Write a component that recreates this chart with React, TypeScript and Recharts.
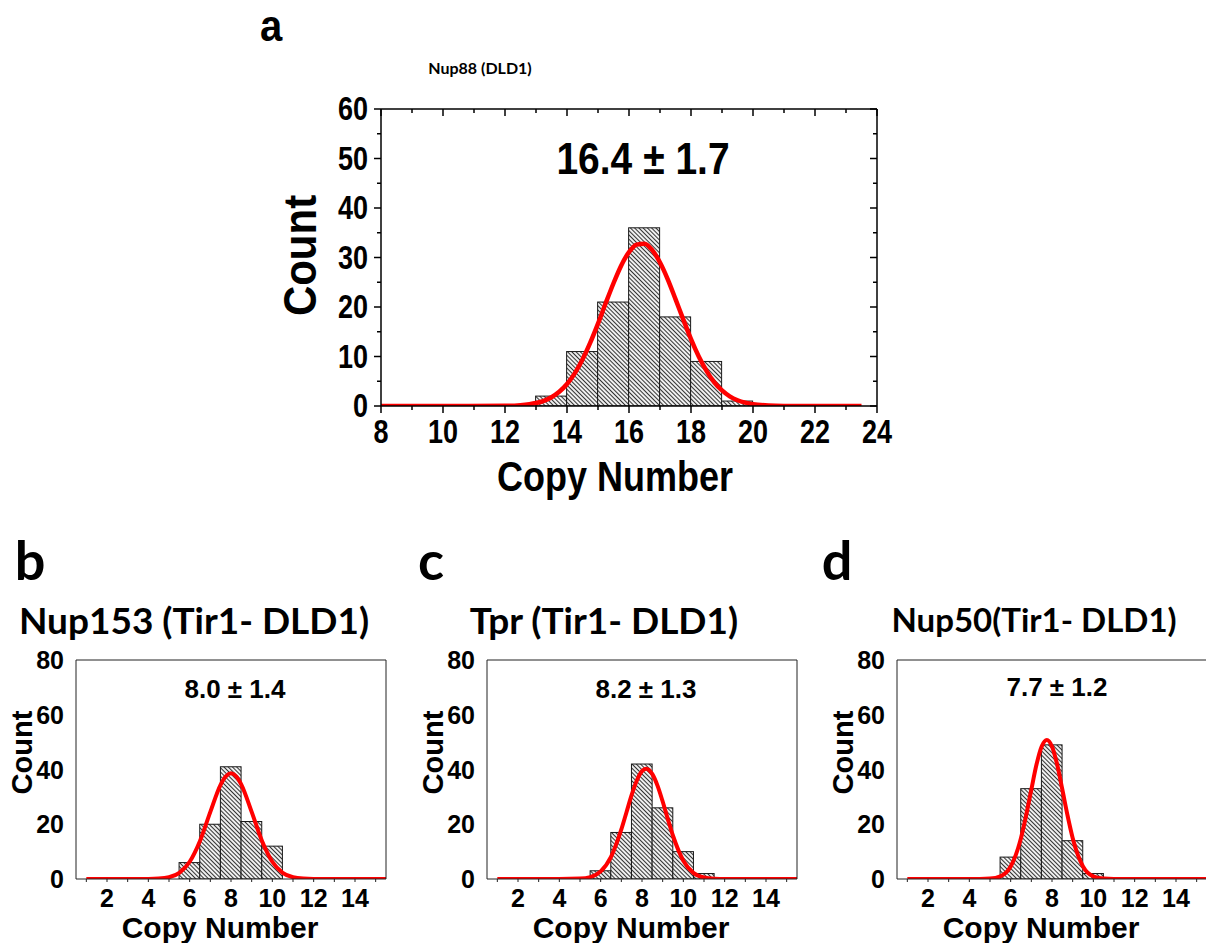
import React from 'react'
import { ComposedChart, Bar, Line, XAxis, YAxis, Label } from 'recharts'

const FONT = '"Liberation Sans", Arial, Helvetica, sans-serif'
const TITLE_FONT = 'Lato, "Open Sans", sans-serif'

// a: Nup88 (DLD1) – histogram (bin centres, counts) and fitted curve
const aBinCenters = [13.5, 14.5, 15.5, 16.5, 17.5, 18.5, 19.5]
const aCounts = [2, 11, 21, 36, 18, 9, 1]
const aFitX = [8, 10, 12, 12.5, 13, 13.25, 13.5, 13.75, 14, 14.25, 14.5, 14.75, 15, 15.25, 15.5, 15.75, 16, 16.25, 16.5, 16.75, 17, 17.25, 17.5, 17.75, 18, 18.25, 18.5, 18.75, 19, 19.25, 19.5, 19.75, 20, 20.5, 21, 22, 23.5]
const aFitY = [0, 0, 0.04, 0.17, 0.6, 1.05, 1.78, 2.87, 4.45, 6.6, 9.4, 12.8, 16.65, 20.8, 24.8, 28.4, 31.1, 32.6, 32.8, 31.5, 29.0, 25.6, 21.6, 17.5, 13.5, 10.0, 7.1, 4.8, 3.15, 1.96, 1.17, 0.67, 0.37, 0.1, 0.02, 0, 0]
const aXTicks = [8, 9, 10, 11, 12, 13, 14, 15, 16, 17, 18, 19, 20, 21, 22, 23, 24]
const aYTicks = [0, 5, 10, 15, 20, 25, 30, 35, 40, 45, 50, 55, 60]

// b: Nup153 (Tir1- DLD1)
const bBinCenters = [6, 7, 8, 9, 10]
const bCounts = [6, 20, 41, 21, 12]
const bFitX = [1, 2, 3, 4, 4.5, 5, 5.5, 6, 6.5, 7, 7.5, 7.75, 8, 8.25, 8.5, 9, 9.5, 10, 10.5, 11, 11.5, 12, 13, 14, 15.5]
const bFitY = [0, 0, 0, 0.03, 0.15, 0.65, 2.27, 6.3, 13.9, 24.5, 34.5, 37.5, 38.6, 37.5, 34.5, 24.5, 13.9, 6.3, 2.27, 0.65, 0.15, 0.03, 0, 0, 0]

// c: Tpr (Tir1- DLD1)
const cBinCenters = [6, 7, 8, 9, 10, 11]
const cCounts = [3, 17, 42, 26, 10, 2]
const cFitX = [1, 2, 3, 4, 5, 5.5, 6, 6.5, 7, 7.25, 7.5, 7.75, 8, 8.2, 8.5, 8.75, 9, 9.25, 9.5, 10, 10.5, 11, 11.5, 12, 13, 14, 15.5]
const cFitY = [0, 0, 0, 0, 0.14, 0.71, 2.76, 8.1, 18.1, 24.4, 30.7, 36.0, 39.4, 40.3, 38.3, 34.1, 28.3, 21.9, 15.8, 6.7, 2.15, 0.52, 0.1, 0, 0, 0, 0]

// d: Nup50(Tir1- DLD1)
const dBinCenters = [6, 7, 8, 9, 10]
const dCounts = [8, 33, 49, 14, 2]
const dFitX = [1, 2, 3, 4, 4.5, 5, 5.5, 6, 6.25, 6.5, 6.75, 7, 7.25, 7.5, 7.75, 8, 8.25, 8.5, 8.75, 9, 9.25, 9.5, 10, 10.5, 11, 12, 13, 14, 15.5]
const dFitY = [0, 0, 0, 0, 0.01, 0.14, 0.97, 4.6, 8.8, 15.0, 23.3, 32.7, 41.8, 48.4, 50.8, 48.4, 41.8, 32.7, 23.3, 15.0, 8.8, 4.6, 0.97, 0.14, 0.01, 0, 0, 0, 0]

const smallXTicks = [1, 2, 3, 4, 5, 6, 7, 8, 9, 10, 11, 12, 13, 14, 15]
const smallYTicks = [0, 20, 40, 60, 80]

type Cfg = {
  id: string
  left: number
  top: number
  width: number
  height: number
  margin: { top: number; right: number; bottom: number; left: number }
  yAxisW: number
  xAxisH: number
  xDomain: [number, number]
  yDomain: [number, number]
  xTicks: number[]
  yTicks: number[]
  xLabelStep: number
  yLabelStep: number
  centers: number[]
  counts: number[]
  fitX: number[]
  fitY: number[]
  tickFont: number
  tickSy: number
  xTickDy: number
  yTickDx: number
  xMajor: number
  xMinor: number
  yMajor: number
  yMinor: number
  mirrorTicks: boolean
  xTitleFont: number
  xTitleSy: number
  yTitleFont: number
  yTitleSy: number
  xTitleDy: number
  xTitleShift: number
  yTitleDx: number
  yTitleShift: number
  frame: string
  frameW: number
  lineW: number
}

const textStyle = (size: number) => ({
  fontFamily: FONT,
  fontWeight: 'bold' as const,
  fontSize: size,
  fill: '#000',
})

function Panel({ cfg }: { cfg: Cfg }) {
  const plotW = cfg.width - cfg.margin.left - cfg.margin.right - cfg.yAxisW - 1
  const binPx = plotW / (cfg.xDomain[1] - cfg.xDomain[0])
  const barData = cfg.centers.map((x, i) => ({ x, count: cfg.counts[i] }))
  const fitData = cfg.fitX.map((x, i) => ({ x, fit: cfg.fitY[i] }))
  const hatch = `hatch-${cfg.id}`

  const xTick = (side: 'bottom' | 'top') => (p: any) => {
    const v = p.payload.value
    const labeled = v % cfg.xLabelStep === 0
    const len = labeled ? cfg.xMajor : cfg.xMinor
    if (side === 'top') {
      if (!cfg.mirrorTicks) return <g />
      return <line x1={p.x} x2={p.x} y1={p.y} y2={p.y + len} stroke={cfg.frame} strokeWidth={cfg.frameW} />
    }
    return (
      <g>
        {len > 0 && <line x1={p.x} x2={p.x} y1={p.y} y2={p.y + len} stroke={cfg.frame} strokeWidth={cfg.frameW} />}
        {labeled && (
          <text
            transform={`translate(${p.x},${p.y + cfg.xTickDy}) scale(1,${cfg.tickSy})`}
            textAnchor="middle"
            dominantBaseline="central"
            {...textStyle(cfg.tickFont)}
          >
            {v}
          </text>
        )}
      </g>
    )
  }

  const yTick = (side: 'left' | 'right') => (p: any) => {
    const v = p.payload.value
    const labeled = v % cfg.yLabelStep === 0
    const len = labeled ? cfg.yMajor : cfg.yMinor
    if (side === 'right') {
      if (!cfg.mirrorTicks) return <g />
      return <line x1={p.x} x2={p.x - len} y1={p.y} y2={p.y} stroke={cfg.frame} strokeWidth={cfg.frameW} />
    }
    return (
      <g>
        {len > 0 && <line x1={p.x} x2={p.x - len} y1={p.y} y2={p.y} stroke={cfg.frame} strokeWidth={cfg.frameW} />}
        {labeled && (
          <text
            transform={`translate(${p.x - cfg.yTickDx},${p.y}) scale(1,${cfg.tickSy})`}
            textAnchor="end"
            dominantBaseline="central"
            {...textStyle(cfg.tickFont)}
          >
            {v}
          </text>
        )}
      </g>
    )
  }

  const histShape = (p: any) => {
    const cx = p.x + p.width / 2
    return (
      <rect x={cx - binPx / 2} y={p.y} width={binPx} height={p.height} fill={`url(#${hatch})`} stroke="#1a1a1a" strokeWidth={1} />
    )
  }

  const axisLine = { stroke: cfg.frame, strokeWidth: cfg.frameW }

  return (
    <div style={{ position: 'absolute', left: cfg.left, top: cfg.top }}>
      <ComposedChart width={cfg.width} height={cfg.height} data={barData} margin={cfg.margin}>
        <defs>
          <pattern id={hatch} patternUnits="userSpaceOnUse" width={3} height={3} patternTransform="rotate(45)">
            <rect width={3} height={3} fill="#ffffff" />
            <line x1={0} y1={1.5} x2={3} y2={1.5} stroke="#333" strokeWidth={1.15} />
          </pattern>
        </defs>
        <XAxis
          xAxisId="b"
          dataKey="x"
          type="number"
          domain={cfg.xDomain}
          allowDataOverflow
          ticks={cfg.xTicks}
          interval={0}
          tickSize={0}
          tickMargin={0}
          tickLine={false}
          tick={xTick('bottom')}
          height={cfg.xAxisH}
          axisLine={axisLine}
        >
          <Label
            content={(lp: any) => {
              const vb = lp.viewBox
              return (
                <text
                  transform={`translate(${vb.x + vb.width / 2 - cfg.xTitleShift},${vb.y + cfg.xTitleDy}) scale(1,${cfg.xTitleSy})`}
                  textAnchor="middle"
                  dominantBaseline="central"
                  {...textStyle(cfg.xTitleFont)}
                >
                  Copy Number
                </text>
              )
            }}
          />
        </XAxis>
        <XAxis
          xAxisId="t"
          orientation="top"
          dataKey="x"
          type="number"
          domain={cfg.xDomain}
          allowDataOverflow
          ticks={cfg.xTicks}
          interval={0}
          tickSize={0}
          tickMargin={0}
          tickLine={false}
          tick={xTick('top')}
          height={1}
          axisLine={axisLine}
        />
        <YAxis
          yAxisId="l"
          type="number"
          domain={cfg.yDomain}
          allowDataOverflow
          ticks={cfg.yTicks}
          interval={0}
          tickSize={0}
          tickMargin={0}
          tickLine={false}
          tick={yTick('left')}
          width={cfg.yAxisW}
          axisLine={axisLine}
        >
          <Label
            content={(lp: any) => {
              const vb = lp.viewBox
              const x = vb.x + vb.width - cfg.yTitleDx
              const y = vb.y + vb.height / 2 - cfg.yTitleShift
              return (
                <text
                  transform={`translate(${x},${y}) rotate(-90) scale(1,${cfg.yTitleSy})`}
                  textAnchor="middle"
                  dominantBaseline="central"
                  {...textStyle(cfg.yTitleFont)}
                >
                  Count
                </text>
              )
            }}
          />
        </YAxis>
        <YAxis
          yAxisId="r"
          orientation="right"
          type="number"
          domain={cfg.yDomain}
          allowDataOverflow
          ticks={cfg.yTicks}
          interval={0}
          tickSize={0}
          tickMargin={0}
          tickLine={false}
          tick={yTick('right')}
          width={1}
          axisLine={axisLine}
        />
        <Bar
          xAxisId="b"
          yAxisId="l"
          dataKey="count"
          barSize={binPx - 0.02}
          shape={histShape}
          isAnimationActive={false}
        />
        <Line
          xAxisId="b"
          yAxisId="l"
          data={fitData}
          dataKey="fit"
          type="monotone"
          stroke="#ff0000"
          strokeWidth={cfg.lineW}
          dot={false}
          activeDot={false}
          isAnimationActive={false}
        />
      </ComposedChart>
    </div>
  )
}

const panelA: Cfg = {
  id: 'a',
  left: 240,
  top: 90,
  width: 720,
  height: 430,
  margin: { top: 18, right: 82, bottom: 0, left: 0 },
  yAxisW: 141,
  xAxisH: 114,
  xDomain: [8, 24],
  yDomain: [0, 60],
  xTicks: aXTicks,
  yTicks: aYTicks,
  xLabelStep: 2,
  yLabelStep: 10,
  centers: aBinCenters,
  counts: aCounts,
  fitX: aFitX,
  fitY: aFitY,
  tickFont: 27,
  tickSy: 1.2,
  xTickDy: 26,
  yTickDx: 13,
  xMajor: 7,
  xMinor: 4,
  yMajor: 7,
  yMinor: 4,
  mirrorTicks: true,
  xTitleFont: 36,
  xTitleSy: 1.2,
  yTitleFont: 42,
  yTitleSy: 1.12,
  xTitleDy: 70,
  xTitleShift: 14,
  yTitleDx: 81,
  yTitleShift: 2,
  frame: '#000',
  frameW: 1.5,
  lineW: 4.5,
}

const smallBase = {
  top: 630,
  width: 400,
  height: 313,
  margin: { top: 29, right: 13, bottom: 0, left: 0 },
  yAxisW: 76,
  xAxisH: 64,
  xDomain: [0.5, 15.5] as [number, number],
  yDomain: [0, 80] as [number, number],
  xTicks: smallXTicks,
  yTicks: smallYTicks,
  xLabelStep: 2,
  yLabelStep: 20,
  tickFont: 25,
  tickSy: 1,
  xTickDy: 19,
  yTickDx: 12,
  xMajor: 3,
  xMinor: 3,
  yMajor: 0,
  yMinor: 0,
  mirrorTicks: false,
  xTitleFont: 30,
  xTitleSy: 1,
  yTitleFont: 29,
  yTitleSy: 1,
  xTitleDy: 48,
  xTitleShift: 11,
  yTitleDx: 54,
  yTitleShift: 17,
  frame: '#222',
  frameW: 1,
  lineW: 4,
}

const panelB: Cfg = { ...smallBase, id: 'b', left: 0, centers: bBinCenters, counts: bCounts, fitX: bFitX, fitY: bFitY }
const panelC: Cfg = { ...smallBase, id: 'c', left: 411, centers: cBinCenters, counts: cCounts, fitX: cFitX, fitY: cFitY }
const panelD: Cfg = { ...smallBase, id: 'd', left: 821, centers: dBinCenters, counts: dCounts, fitX: dFitX, fitY: dFitY }

function Txt({
  x,
  y,
  size,
  sy = 1,
  lh = 0.9,
  font = FONT,
  children,
}: {
  x: number
  y: number
  size: number
  sy?: number
  lh?: number
  font?: string
  children: React.ReactNode
}) {
  return (
    <div
      style={{
        position: 'absolute',
        left: x,
        top: y,
        transform: `translate(-50%, -50%) scale(1, ${sy})`,
        fontFamily: font,
        fontWeight: 'bold',
        fontSize: size,
        lineHeight: lh,
        whiteSpace: 'nowrap',
        color: '#000',
      }}
    >
      {children}
    </div>
  )
}

export default function App() {
  return (
    <div style={{ position: 'absolute', left: 0, top: 0, width: 1206, height: 943, overflow: 'hidden', background: '#fff' }}>
      <Panel cfg={panelA} />
      <Panel cfg={panelB} />
      <Panel cfg={panelC} />
      <Panel cfg={panelD} />

      <Txt x={271} y={26} size={40} sy={1.1} lh={1}>a</Txt>
      <Txt x={480} y={68} size={16} font={TITLE_FONT}>Nup88 (DLD1)</Txt>
      <Txt x={643} y={159} size={39} sy={1.15}>16.4 ± 1.7</Txt>

      <Txt x={30} y={560} size={54} font={TITLE_FONT}>b</Txt>
      <Txt x={431} y={560} size={54} font={TITLE_FONT}>c</Txt>
      <Txt x={837} y={560} size={54} font={TITLE_FONT}>d</Txt>

      <Txt x={194} y={620} size={37} font={TITLE_FONT}>Nup153 (Tir1- DLD1)</Txt>
      <Txt x={604} y={620} size={37} font={TITLE_FONT}>Tpr (Tir1- DLD1)</Txt>
      <Txt x={1034} y={620} size={33} font={TITLE_FONT}>Nup50(Tir1- DLD1)</Txt>

      <Txt x={235} y={690} size={26}>8.0 ± 1.4</Txt>
      <Txt x={646} y={690} size={26}>8.2 ± 1.3</Txt>
      <Txt x={1057} y={688} size={26}>7.7 ± 1.2</Txt>
    </div>
  )
}
